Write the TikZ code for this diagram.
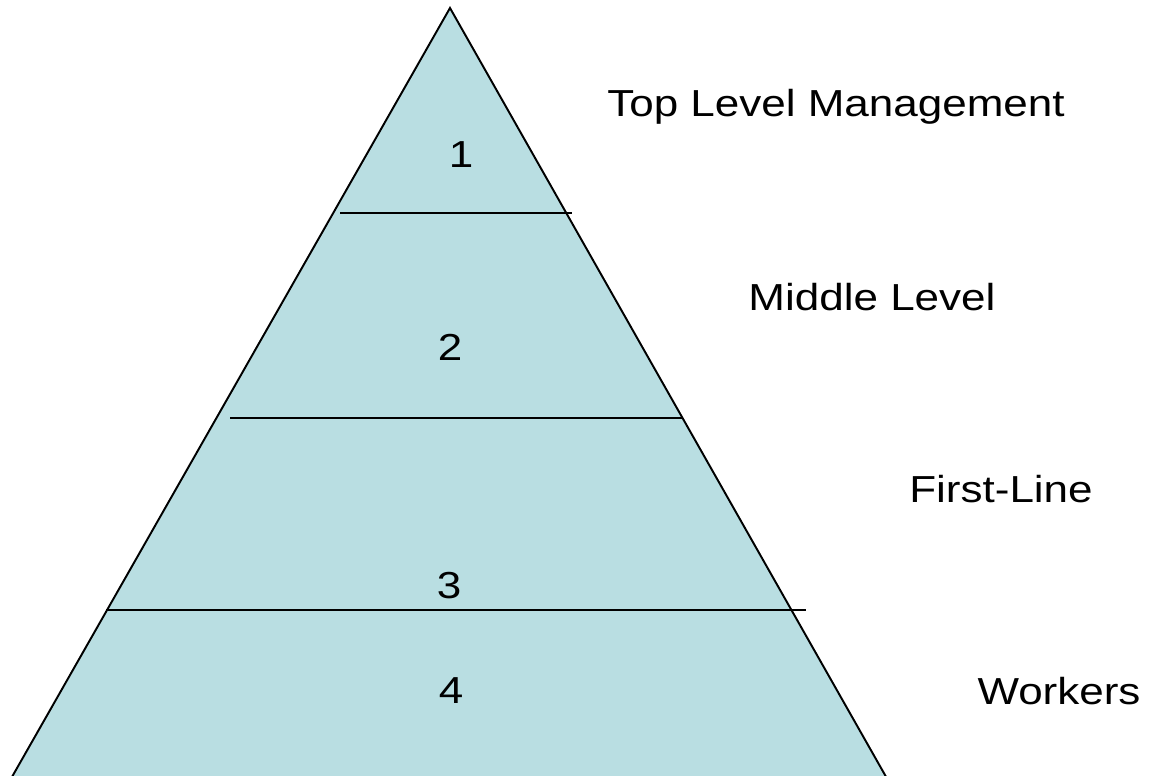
\documentclass[tikz,border=0pt]{standalone}
\usepackage{fontspec}
\setmainfont{Liberation Sans}
\usepackage{tikz}
\definecolor{tier-blue}{HTML}{B9DEE2}

\tikzset{
    lvl/.style={anchor=base, inner sep=0pt, font=\fontsize{21.4}{25}\selectfont, xscale=1.17, transform shape},
    cut/.style={line width=1.1pt}
}

\begin{document}
\begin{tikzpicture}[x=0.2mm, y=-0.2mm]
    \useasboundingbox (0,0) rectangle (1151,776);
    \clip (0,0) rectangle (1151,776);

    % Draw pyramid
    \coordinate (apex) at (450,8);
    \coordinate (baseL) at (-8,812);
    \coordinate (baseR) at (906,812);
    \filldraw[fill=tier-blue, line width=1.1pt, line join=miter] (apex) -- (baseL) -- (baseR) -- cycle;

    % Dividing lines
    \foreach \y/\xa/\xb/\n in {213/340/572/1, 418/230/683/2, 610/106/806/3} {
        \coordinate (c\n a) at (\xa,\y);
        \coordinate (c\n b) at (\xb,\y);
        \draw[cut] (c\n a) -- (c\n b);
    }

    % Tier numbers
    \node[lvl] (n1) at (461,167) {1};
    \node[lvl] (n2) at (450,360) {2};
    \node[lvl] (n3) at (449,598) {3};
    \node[lvl] (n4) at (451,703) {4};

    % Labels
    \node[lvl] (top) at (836,117) {Top Level Management};
    \node[lvl] (mid) at (872,310) {Middle Level};
    \node[lvl] (first) at (1001,502) {First-Line};
    \node[lvl] (work) at (1059,704) {Workers};
\end{tikzpicture}
\end{document}
